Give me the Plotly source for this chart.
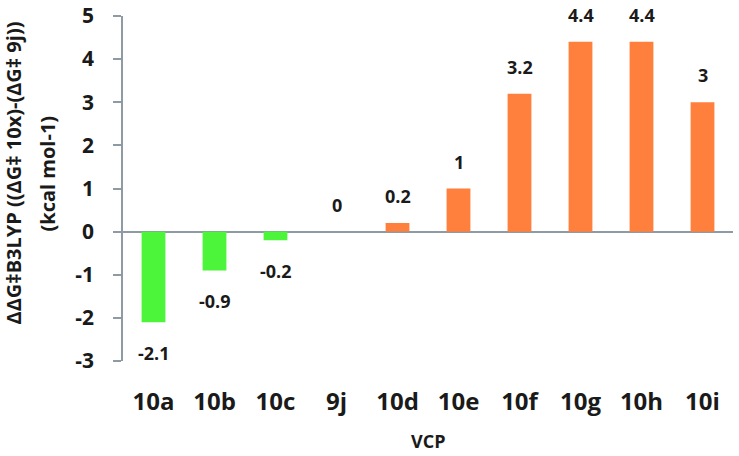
import plotly.graph_objects as go

categories = ["10a", "10b", "10c", "9j", "10d", "10e", "10f", "10g", "10h", "10i"]
values = [-2.1, -0.9, -0.2, 0, 0.2, 1, 3.2, 4.4, 4.4, 3]
value_labels = ["-2.1", "-0.9", "-0.2", "0", "0.2", "1", "3.2", "4.4", "4.4", "3"]
y_ticks = [-3, -2, -1, 0, 1, 2, 3, 4, 5]

GREEN = "#4cf53a"
ORANGE = "#ff7f3c"
colors = [GREEN if v < 0 else ORANGE for v in values]

FONT = "Open Sans"
TXT = "#1a1a1a"
AX = "#8e9ba5"

fig = go.Figure()
fig.add_trace(go.Bar(x=categories, y=values, marker=dict(color=colors, line=dict(width=0)),
                     width=0.39, hoverinfo="x+y"))

for c, v, lab in zip(categories, values, value_labels):
    fig.add_annotation(x=c, y=v, text=f"<b>{lab}</b>", showarrow=False,
                       yshift=(27 if v >= 0 else -31),
                       font=dict(family=FONT, size=18, color=TXT))

# axis titles
fig.add_annotation(xref="paper", yref="paper", x=0.5, y=0, yshift=-80,
                   xanchor="center", yanchor="middle",
                   text="<b>VCP</b>", showarrow=False,
                   font=dict(family=FONT, size=18, color=TXT))
fig.add_annotation(xref="paper", yref="paper", x=0, xshift=-110, y=0.5, yshift=15,
                   xanchor="center", yanchor="middle",
                   text="<b>ΔΔG‡B3LYP ((ΔG‡ 10x)-(ΔG‡ 9j))</b>",
                   showarrow=False, textangle=-90,
                   font=dict(family=FONT, size=20, color=TXT))
fig.add_annotation(xref="paper", yref="paper", x=0, xshift=-76, y=0.5, yshift=15,
                   xanchor="center", yanchor="middle",
                   text="<b>(kcal mol-1)</b>",
                   showarrow=False, textangle=-90,
                   font=dict(family=FONT, size=20, color=TXT))

fig.update_layout(
    width=739, height=456,
    margin=dict(l=123, r=6, t=16, b=95, autoexpand=False),
    plot_bgcolor="white", paper_bgcolor="white",
    showlegend=False,
    font=dict(family=FONT, color=TXT),
    xaxis=dict(
        showline=False, showgrid=False, zeroline=False, ticks="",
        tickfont=dict(family=FONT, size=24, color=TXT),
        ticklabelstandoff=24, automargin=False,
        tickprefix="<b>", ticksuffix="</b>",
    ),
    yaxis=dict(
        range=[-3, 5], tickvals=y_ticks, ticktext=[f"<b>{t}</b>" for t in y_ticks],
        showline=True, linecolor=AX, linewidth=1.5,
        ticks="outside", ticklen=8, tickcolor=AX, tickwidth=1.5,
        showgrid=False, zeroline=True, zerolinecolor=AX, zerolinewidth=1.5,
        tickfont=dict(family=FONT, size=21, color=TXT),
        ticklabelstandoff=15, ticklabeloverflow="allow", automargin=False,
    ),
)

fig.write_html("out.html", config={"displayModeBar": False},
               post_script="document.body.style.margin='0';")
